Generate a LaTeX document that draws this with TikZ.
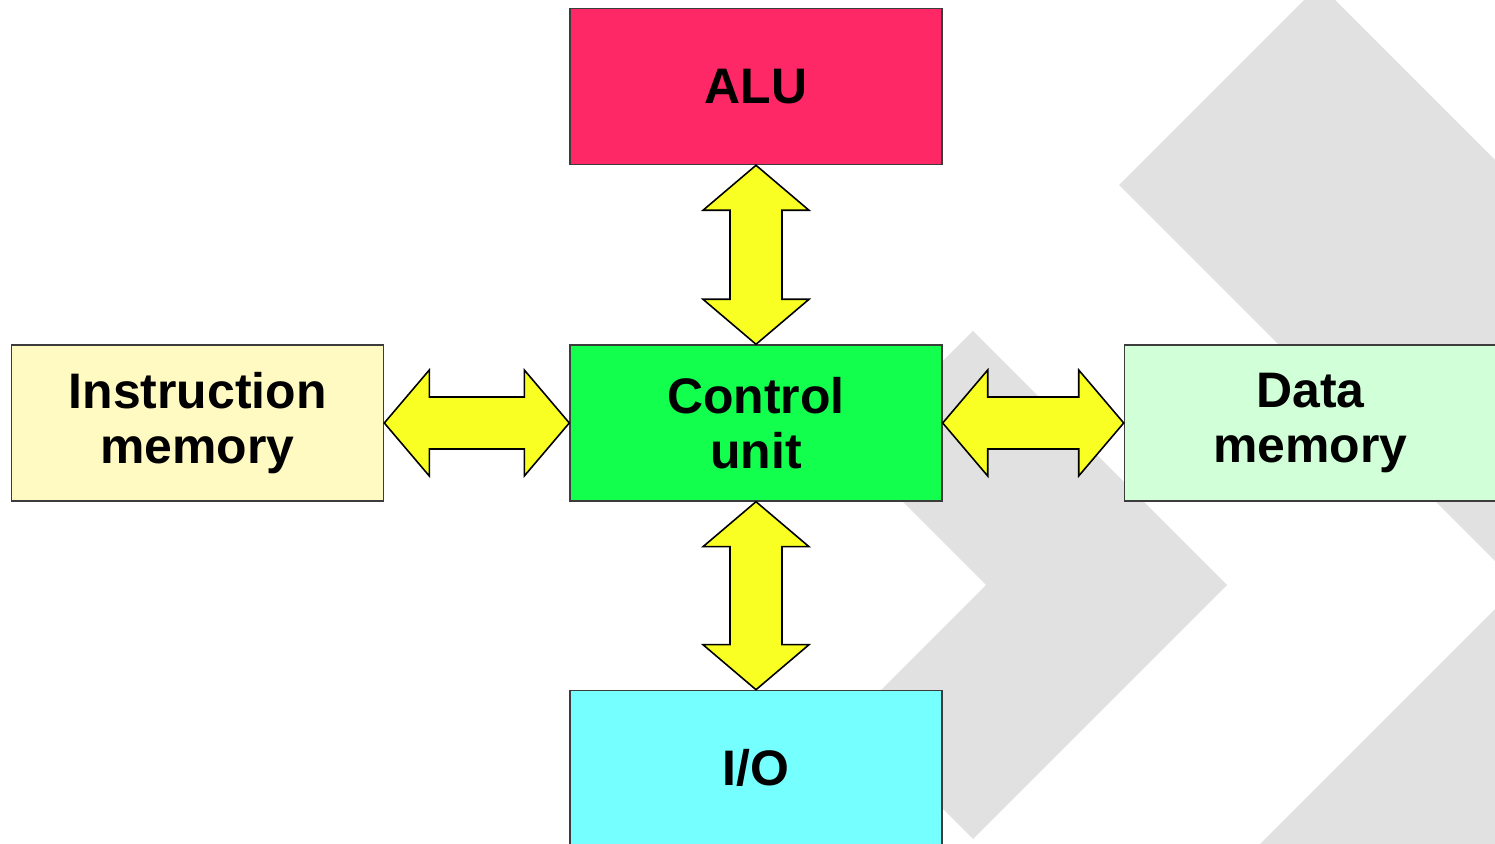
\documentclass[tikz,border=0pt]{standalone}
\usepackage{fontspec}
\setmainfont{Liberation Sans}
\usepackage{xcolor}
\usepackage{tikz}
\usetikzlibrary{positioning,calc}
\definecolor{alured}{HTML}{FF2866}
\definecolor{instyellow}{HTML}{FFF9C2}
\definecolor{ctrlgreen}{HTML}{12FF4E}
\definecolor{datagreen}{HTML}{D0FFD8}
\definecolor{iocyan}{HTML}{76FFFF}
\definecolor{arrowyellow}{HTML}{F9FF22}
\definecolor{chevgray}{HTML}{E0E1E0}
\definecolor{edgegray}{HTML}{3C3C3C}

\begin{document}
\begin{tikzpicture}[
  box/.style={draw=edgegray, line width=0.4pt, minimum width=3.72cm, minimum height=1.56cm, align=center, font=\bfseries\fontsize{14.2}{15.6}\selectfont},
  dbl/.style={fill=arrowyellow, draw=black, line width=0.45pt, line join=miter,
    to path={-- ($(\tikztostart)!0.45cm!(\tikztotarget)!0.53cm!90:(\tikztotarget)$)
      -- ($(\tikztostart)!0.45cm!(\tikztotarget)!0.26cm!90:(\tikztotarget)$)
      -- ($(\tikztotarget)!0.45cm!(\tikztostart)!0.26cm!-90:(\tikztostart)$)
      -- ($(\tikztotarget)!0.45cm!(\tikztostart)!0.53cm!-90:(\tikztostart)$)
      -- (\tikztotarget)
      -- ($(\tikztotarget)!0.45cm!(\tikztostart)!0.53cm!90:(\tikztostart)$)
      -- ($(\tikztotarget)!0.45cm!(\tikztostart)!0.26cm!90:(\tikztostart)$)
      -- ($(\tikztostart)!0.45cm!(\tikztotarget)!0.26cm!-90:(\tikztotarget)$)
      -- ($(\tikztostart)!0.45cm!(\tikztotarget)!0.53cm!-90:(\tikztotarget)$)
      -- cycle}},
  chevron/.style={fill=chevgray}
]
\useasboundingbox (0,0) rectangle (14.95,-8.44);
\clip (0,0) rectangle (14.95,-8.44);
% background chevrons
\fill[chevron] (11.19,-1.85) -- (13.195,0.155) -- (19.20,-5.85) -- (13.195,-11.855) -- (11.19,-9.85) -- (15.19,-5.85) -- cycle;
\fill[chevron] (8.525,-4.515) -- (9.73,-3.31) -- (12.27,-5.85) -- (9.73,-8.39) -- (8.525,-7.185) -- (9.86,-5.85) -- cycle;
% units
\node[box, fill=ctrlgreen] (cu) at (7.56,-4.23) {Control\\unit};
\node[box, fill=alured, above=1.79cm of cu] (alu) {ALU};
\node[box, fill=iocyan, below=1.88cm of cu] (io) {I/O};
\node[box, fill=instyellow, left=1.85cm of cu] (im) {Instruction\\memory};
\node[box, fill=datagreen, right=1.81cm of cu] (dm) {Data\\memory};
% buses
\draw[dbl] (alu.south) to (cu.north);
\draw[dbl] (cu.south) to (io.north);
\draw[dbl] (im.east) to (cu.west);
\draw[dbl] (cu.east) to (dm.west);
\end{tikzpicture}
\end{document}
